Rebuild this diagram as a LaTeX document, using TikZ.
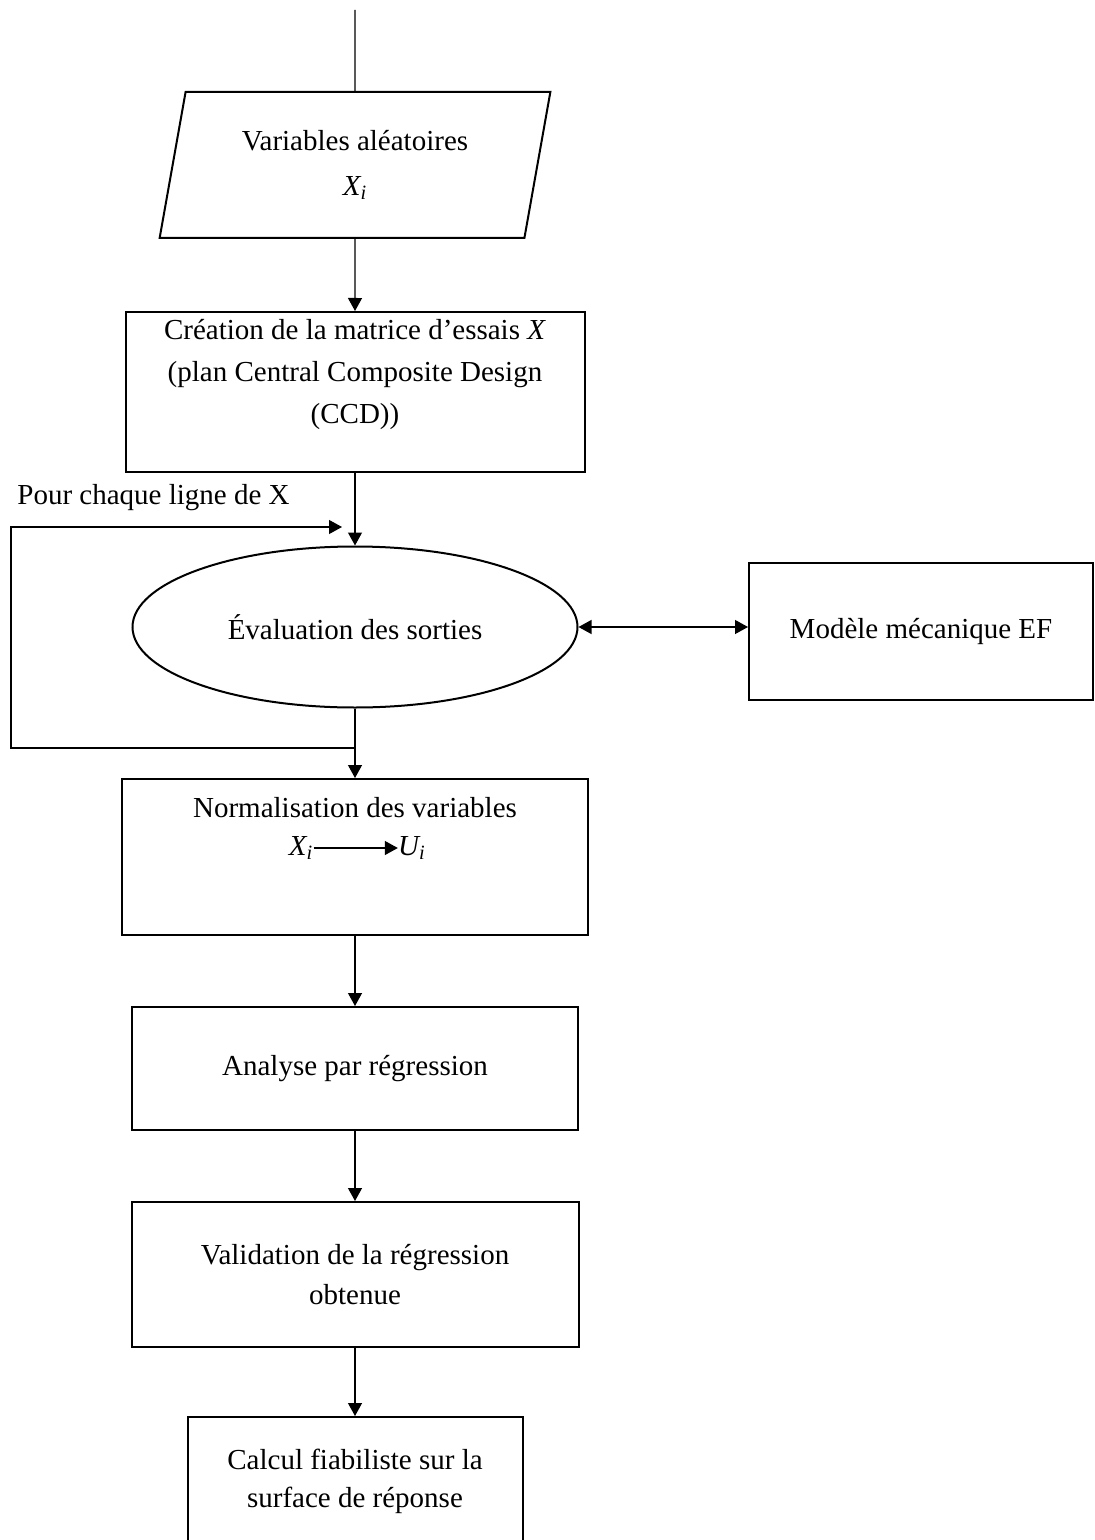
\documentclass[tikz,border=0pt]{standalone}
\usepackage{fontspec}
\setmainfont{Liberation Serif}
\usetikzlibrary{shapes.geometric,arrows.meta}
\begin{document}
\begin{tikzpicture}[x=0.5pt,y=-0.5pt,
  font=\fontsize{14.5}{21}\selectfont,
  boite/.style={draw,line width=1pt,inner sep=0pt},
  pointe/.tip={Triangle[length=6.5pt,width=7pt]},
  fleche/.style={-pointe,line width=0.6pt}]
  \useasboundingbox (0,0) rectangle (1094,1540);
  \coordinate (D) at (355,10);
  \node[boite,trapezium,trapezium left angle=76,trapezium right angle=104,
    trapezium stretches=true,minimum width=195.5pt,minimum height=73pt,
    align=center,font=\fontsize{14.5}{22.5}\selectfont] (V) at (355,165)
    {Variables aléatoires\\\textit{X\textsubscript{i}}};
  \node[boite,minimum width=229.5pt,minimum height=80pt] (M) at (355,392) {};
  \node[align=center] (Mt) at (355,375)
    {Création de la matrice d’essais \textit{X}\\(plan Central Composite Design\\(CCD))};
  \node[boite,ellipse,minimum width=222.5pt,minimum height=80.5pt] (E) at (355,627)
    {Évaluation des sorties};
  \node[boite,minimum width=172pt,minimum height=68.5pt] (F) at (921,631.5)
    {Modèle mécanique EF};
  \node[boite,minimum width=233pt,minimum height=78pt] (N) at (355,857) {};
  \node (Nt) at (355,808) {Normalisation des variables};
  \node[inner sep=0pt] (xi) at (301,848) {\textit{X\textsubscript{i}}};
  \node[inner sep=0pt] (ui) at (412,848) {\textit{U\textsubscript{i}}};
  \node[boite,minimum width=223pt,minimum height=61.5pt] (A) at (355,1068.5)
    {Analyse par régression};
  \node[boite,minimum width=223.5pt,minimum height=72.5pt,align=center,
    font=\fontsize{14.5}{20}\selectfont] (R) at (355,1274.5)
    {Validation de la régression\\obtenue};
  \node[boite,minimum width=167.5pt,minimum height=64pt,align=center,
    font=\fontsize{14.5}{19}\selectfont] (C) at (355,1481)
    {Calcul fiabiliste sur la\\surface de réponse};
  \node[anchor=west,inner sep=0pt] (P) at (17,498) {Pour chaque ligne de X};
  \coordinate (B1) at (355,748);
  \coordinate (B2) at (11,748);
  \coordinate (B3) at (11,527);
  \coordinate (B4) at (342,527);
  \draw[line width=0.6pt] (D) -- (V.north);
  \draw[fleche] (V.south) -- (M.north);
  \draw[fleche] (M.south) -- (E.north);
  \draw[fleche] (E.south) -- (N.north);
  \draw[fleche] (B1) -- (B2) -- (B3) -- (B4);
  \draw[pointe-pointe,line width=0.6pt] (E.east) -- (E.east -| F.west);
  \draw[fleche] (xi) -- (ui);
  \draw[fleche] (N.south) -- (A.north);
  \draw[fleche] (A.south) -- (R.north);
  \draw[fleche] (R.south) -- (C.north);
\end{tikzpicture}
\end{document}
